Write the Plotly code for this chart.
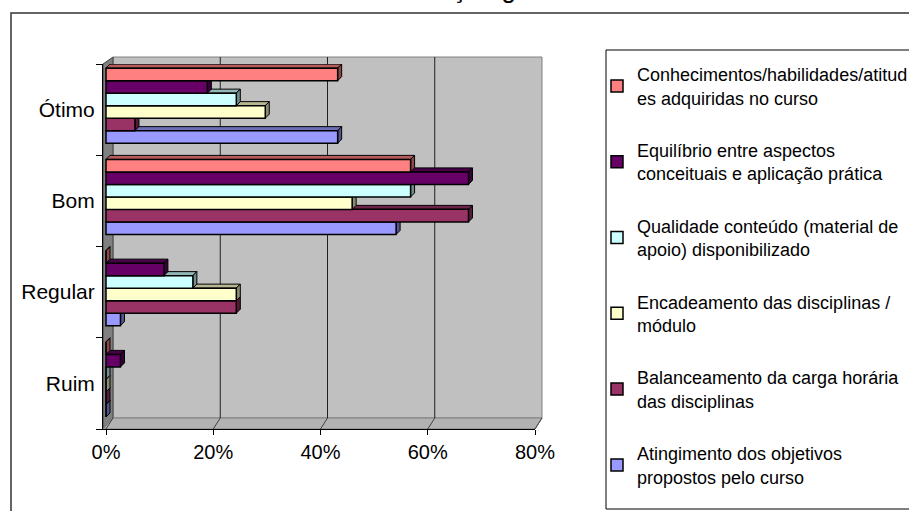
import plotly.graph_objects as go

# ---- data -------------------------------------------------------------
categorias = ["Ruim", "Regular", "Bom", "Ótimo"]

nomes = [
    "Conhecimentos/habilidades/atitud<br>es adquiridas no curso",
    "Equilíbrio entre aspectos<br>conceituais e aplicação prática",
    "Qualidade conteúdo (material de<br>apoio) disponibilizado",
    "Encadeamento das disciplinas /<br>módulo",
    "Balanceamento da carga horária<br>das disciplinas",
    "Atingimento dos objetivos<br>propostos pelo curso",
]

# percentages, in the order Ruim, Regular, Bom, Ótimo
conhecimentos = [0.0, 0.0, 56.8, 43.2]
equilibrio = [2.7, 10.8, 67.6, 18.9]
qualidade = [0.0, 16.2, 56.8, 24.3]
encadeamento = [0.0, 24.3, 45.9, 29.7]
balanceamento = [0.0, 24.3, 67.6, 5.4]
atingimento = [0.0, 2.7, 54.1, 43.2]

series = [conhecimentos, equilibrio, qualidade, encadeamento, balanceamento, atingimento]
cores = ["#FF8080", "#660066", "#CCFFFF", "#FFFFCC", "#993366", "#9999FF"]

x_ticks = [0, 20, 40, 60, 80]
x_tick_labels = ["0%", "20%", "40%", "60%", "80%"]

# ---- geometry of the page ----------------------------------------------
W, H = 909, 511
L, R, T, B = 103, 535, 64, 429          # plot area in page pixels
X_MAX = 80
PX_PER_UNIT = (R - L - 3) / X_MAX        # bars start 3px right of the axis line
X_MIN = -3 / PX_PER_UNIT
BACK_DX, BACK_DY = 10, 11                # depth of the 3D walls
BAR_DEPTH = 4                            # depth of the bar caps in pixels
FONT = "Liberation Sans, Arial, sans-serif"


def px_x(px):
    return (px - L) / (R - L)


def px_y(py):
    return (B - py) / (B - T)


def shade(hex_color, f):
    h = hex_color.lstrip("#")
    r, g, b = (int(h[i:i + 2], 16) for i in (0, 2, 4))
    return "#%02X%02X%02X" % (int(r * f), int(g * f), int(b * f))


fig = go.Figure()
shapes = []

# walls of the 3D frame
back_left = L + BACK_DX
back_right = back_left + (R - L - 3)
back_top = T - 7
back_bottom = B - BACK_DY
shapes.append(dict(type="rect", xref="paper", yref="paper",
                   x0=px_x(back_left), x1=px_x(back_right),
                   y0=px_y(back_bottom), y1=px_y(back_top),
                   fillcolor="#C0C0C0", line=dict(color="#808080", width=1),
                   layer="below"))
# left side wall
shapes.append(dict(type="path", xref="paper", yref="paper",
                   path="M{},{} L{},{} L{},{} L{},{} Z".format(
                       px_x(L), px_y(T), px_x(back_left), px_y(back_top),
                       px_x(back_left), px_y(back_bottom), px_x(L), px_y(B)),
                   fillcolor="#808080", line=dict(color="#404040", width=1),
                   layer="below"))
# floor
shapes.append(dict(type="path", xref="paper", yref="paper",
                   path="M{},{} L{},{} L{},{} L{},{} Z".format(
                       px_x(L), px_y(B), px_x(R), px_y(B),
                       px_x(back_right), px_y(back_bottom),
                       px_x(back_left), px_y(back_bottom)),
                   fillcolor="#B2B2B2", line=dict(color="#808080", width=1),
                   layer="below"))

back_scale = (back_right - back_left) / X_MAX
for v in x_ticks[1:-1]:
    bx = back_left + v * back_scale
    # vertical gridline on the back wall
    shapes.append(dict(type="line", xref="paper", yref="paper",
                       x0=px_x(bx), x1=px_x(bx),
                       y0=px_y(back_bottom), y1=px_y(back_top),
                       line=dict(color="#202020", width=1), layer="below"))
for v in x_ticks:
    bx = back_left + v * back_scale
    fx = L + 3 + v * PX_PER_UNIT
    # diagonal on the floor
    shapes.append(dict(type="line", xref="paper", yref="paper",
                       x0=px_x(fx), x1=px_x(bx),
                       y0=px_y(B), y1=px_y(back_bottom),
                       line=dict(color="#404040", width=1), layer="below"))

# bars: first trace sits at the bottom of each group
n = len(series)
band_px = (B - T) / len(categorias)
w = (75 / band_px) / n
lift = 4 / band_px
half_px = w * band_px / 2
dx_data = BAR_DEPTH / PX_PER_UNIT

for pos, idx in enumerate(reversed(range(n))):
    vals = series[idx]
    cor = cores[idx]
    off = -n * w / 2 + lift + pos * w
    fig.add_trace(go.Bar(
        y=categorias, x=vals, orientation="h", name=nomes[idx],
        marker=dict(color=cor, line=dict(color="black", width=1.5)),
        width=w, offset=off, legendrank=idx + 1, legendgroup="g%d" % idx,
        hoverinfo="skip",
    ))
    for j, v in enumerate(vals):
        yc = j + off + w / 2
        # top face of the 3D bar
        shapes.append(dict(
            type="path", xref="x", yref="y", ysizemode="pixel", yanchor=yc,
            path="M0,{a} L{d},{b} L{e},{b} L{v},{a} Z".format(
                a=half_px, b=half_px + BAR_DEPTH, d=dx_data, e=v + dx_data, v=v),
            fillcolor=shade(cor, 0.72), line=dict(color="black", width=1),
            layer="below"))
        # right end face of the 3D bar
        shapes.append(dict(
            type="path", xref="x", yref="y", ysizemode="pixel", yanchor=yc,
            path="M{v},{a} L{e},{b} L{e},{c} L{v},{m} Z".format(
                v=v, e=v + dx_data, a=half_px, b=half_px + BAR_DEPTH,
                c=-half_px + BAR_DEPTH, m=-half_px),
            fillcolor=shade(cor, 0.55), line=dict(color="black", width=1),
            layer="below"))

# outer chart frame and legend box
shapes.append(dict(type="rect", xref="paper", yref="paper",
                   x0=px_x(11), x1=px_x(W + 20), y0=px_y(H + 20), y1=px_y(13),
                   line=dict(color="#333333", width=1.5), fillcolor="rgba(0,0,0,0)",
                   layer="above"))
shapes.append(dict(type="rect", xref="paper", yref="paper",
                   x0=px_x(606), x1=px_x(W + 20), y0=px_y(509), y1=px_y(50),
                   line=dict(color="black", width=1), fillcolor="rgba(0,0,0,0)",
                   layer="above"))

fig.update_layout(
    width=W, height=H,
    margin=dict(l=L, r=W - R, t=T, b=H - B, pad=0, autoexpand=False),
    paper_bgcolor="white", plot_bgcolor="rgba(0,0,0,0)",
    barmode="overlay",
    font=dict(family=FONT, color="black"),
    shapes=shapes,
    showlegend=True,
    legend=dict(x=px_x(597), y=px_y(56), xanchor="left", yanchor="top",
                font=dict(size=18, family=FONT, color="black"),
                bgcolor="rgba(0,0,0,0)", borderwidth=0, maxheight=480,
                tracegroupgap=26, traceorder="grouped"),
    annotations=[dict(text="Avaliação geral", xref="paper", yref="paper",
                      x=px_x(470), y=px_y(6), xanchor="center", yanchor="bottom",
                      showarrow=False, font=dict(size=26, family=FONT, color="black"))],
    xaxis=dict(range=[X_MIN, X_MAX], tickvals=x_ticks, ticktext=x_tick_labels,
               showgrid=False, zeroline=False, showline=True, linecolor="black",
               linewidth=1, ticks="outside", ticklen=5, tickcolor="black",
               tickfont=dict(size=20)),
    yaxis=dict(type="category", categoryorder="array", categoryarray=categorias,
               range=[-0.5, len(categorias) - 0.5], showgrid=False, zeroline=False,
               showline=True, linecolor="black", linewidth=1, ticks="outside",
               tickson="boundaries", ticklen=6, tickcolor="black",
               ticklabelstandoff=3, tickfont=dict(size=21)),
)

fig.write_html("out.html")
